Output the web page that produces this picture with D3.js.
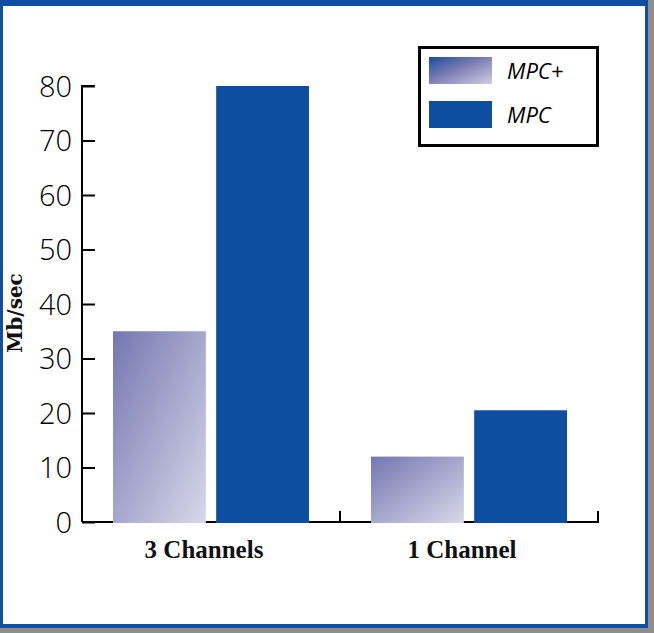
<!DOCTYPE html>
<html>
<head>
<meta charset="utf-8">
<script src="https://cdn.jsdelivr.net/npm/d3@7"></script>
<style>
  html, body { margin: 0; padding: 0; background: #8f8f8f; }
  svg { display: block; }
</style>
</head>
<body>
<svg id="chart" width="654" height="633"></svg>
<script>
// Throughput per channel configuration
const categories = ["3 Channels", "1 Channel"];
const seriesNames = ["MPC+", "MPC"];
const mpcPlus = [35, 12];
const mpc = [80, 20.5];
const yTicks = [0, 10, 20, 30, 40, 50, 60, 70, 80];
const yTitle = "Mb/sec";

const svg = d3.select("#chart");
const W = 654, H = 633;

// Frame: grey drop shadow, blue border, white panel
svg.append("rect").attr("x", 0).attr("y", 0).attr("width", W).attr("height", H).attr("fill", "#8e8e8e");
svg.append("rect").attr("x", 0).attr("y", 0).attr("width", 648).attr("height", 628).attr("fill", "#0f4fa2");
svg.append("rect").attr("x", 3).attr("y", 6).attr("width", 642).attr("height", 618).attr("fill", "#ffffff");

const defs = svg.append("defs");
const barGrad = defs.append("linearGradient").attr("id", "gradBar")
  .attr("x1", 0).attr("y1", 0).attr("x2", 1).attr("y2", 1);
barGrad.append("stop").attr("offset", "0%").attr("stop-color", "#7477b0");
barGrad.append("stop").attr("offset", "100%").attr("stop-color", "#d8d8ea");
const swGrad = defs.append("linearGradient").attr("id", "gradSwatch")
  .attr("x1", 0).attr("y1", 0).attr("x2", 1).attr("y2", 1);
swGrad.append("stop").attr("offset", "0%").attr("stop-color", "#1b4b9c");
swGrad.append("stop").attr("offset", "45%").attr("stop-color", "#7b7db4");
swGrad.append("stop").attr("offset", "100%").attr("stop-color", "#cfcfe4");

const fills = { "MPC+": "url(#gradBar)", "MPC": "#0d4ea1" };
const swatchFills = { "MPC+": "url(#gradSwatch)", "MPC": "#0d4ea1" };

const x0 = 82, x1 = 598, yBase = 522, yTop = 86;
const y = d3.scaleLinear().domain([0, 80]).range([yBase, yTop]);
const xCat = d3.scaleBand().domain(categories).range([x0, x1]).padding(0);
const xSer = d3.scaleBand().domain(seriesNames)
  .range([31, xCat.bandwidth() - 31]).paddingInner(0.1).paddingOuter(0);

// Y axis
const yAxis = d3.axisRight(y).tickValues(yTicks).tickSize(13).tickFormat(d3.format("d"));
const gy = svg.append("g").attr("transform", `translate(${x0},0)`).call(yAxis);
gy.select(".domain").attr("d", `M13,${yTop}H0V${yBase}`).attr("stroke", "#000").attr("stroke-width", 2);
gy.selectAll(".tick line").attr("stroke", "#000").attr("stroke-width", 2);
gy.selectAll(".tick text")
  .attr("x", -10).attr("dy", "0.36em").attr("text-anchor", "end")
  .attr("font-family", "'Open Sans', sans-serif").attr("font-weight", 300).attr("font-size", 29)
  .attr("fill", "#000");

// X axis baseline with upward ticks at band edges
const gx = svg.append("g").attr("transform", `translate(0,${yBase})`);
gx.append("line").attr("x1", x0).attr("x2", x1).attr("y1", 0).attr("y2", 0)
  .attr("stroke", "#000").attr("stroke-width", 2);
gx.selectAll("line.edge").data(categories).join("line").attr("class", "edge")
  .attr("x1", d => xCat(d) + xCat.bandwidth()).attr("x2", d => xCat(d) + xCat.bandwidth())
  .attr("y1", 1).attr("y2", -11).attr("stroke", "#000").attr("stroke-width", 2);

// Bars
const rows = categories.map((c, i) => ({ cat: c, values: [
  { s: "MPC+", v: mpcPlus[i] }, { s: "MPC", v: mpc[i] } ] }));
const groups = svg.selectAll("g.grp").data(rows).join("g").attr("class", "grp")
  .attr("transform", d => `translate(${xCat(d.cat)},0)`);
groups.selectAll("rect").data(d => d.values).join("rect")
  .attr("x", d => xSer(d.s))
  .attr("width", xSer.bandwidth())
  .attr("y", d => y(d.v))
  .attr("height", d => y(0) - y(d.v) + 1)
  .attr("fill", d => fills[d.s]);

// Category labels
svg.selectAll("text.cat").data(categories).join("text").attr("class", "cat")
  .attr("x", d => xCat(d) + xCat.bandwidth() / 2 - 7)
  .attr("y", 558)
  .attr("text-anchor", "middle")
  .attr("font-family", "'Liberation Serif', 'Times New Roman', serif")
  .attr("font-weight", "bold").attr("font-size", 25).attr("fill", "#111")
  .text(d => d);

// Y title
svg.append("text")
  .attr("transform", "translate(22,313) rotate(-90)")
  .attr("text-anchor", "middle")
  .attr("font-family", "'DejaVu Serif', serif")
  .attr("font-weight", "bold").attr("font-size", 20).attr("fill", "#111")
  .text(yTitle);

// Legend
const lg = svg.append("g");
lg.append("rect").attr("x", 419.5).attr("y", 47.5).attr("width", 178).attr("height", 98)
  .attr("fill", "#fff").attr("stroke", "#000").attr("stroke-width", 3);
const items = lg.selectAll("g.item").data(seriesNames).join("g").attr("class", "item")
  .attr("transform", (d, i) => `translate(429,${57 + i * 44})`);
items.append("rect").attr("width", 63).attr("height", 27).attr("fill", d => swatchFills[d]);
items.append("text").attr("x", 78).attr("y", 22)
  .attr("font-family", "'Open Sans', sans-serif").attr("font-style", "italic")
  .attr("font-weight", 400).attr("font-size", 22).attr("fill", "#000")
  .text(d => d);
</script>
</body>
</html>
